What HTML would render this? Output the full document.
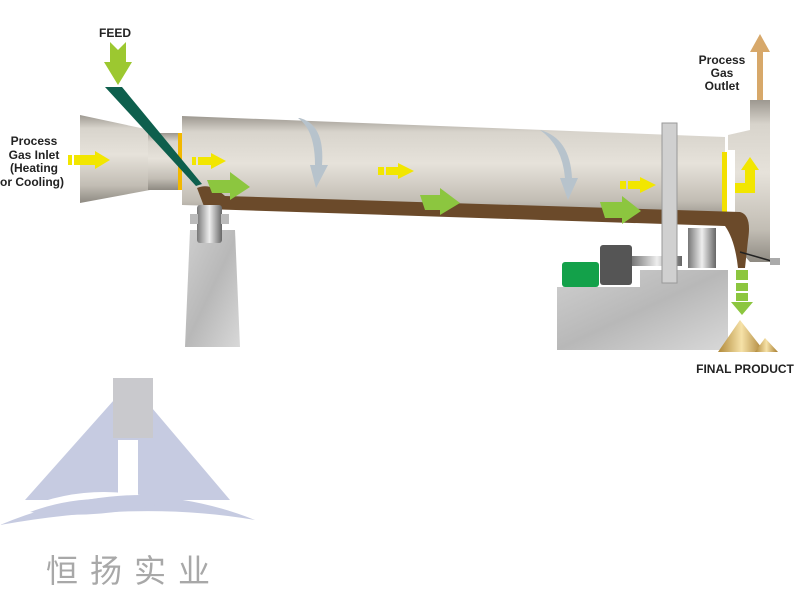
<!DOCTYPE html>
<html><head><meta charset="utf-8"><style>
body{margin:0;background:#fff;width:800px;height:600px;overflow:hidden}
svg{display:block}
text{font-family:"Liberation Sans",Arial,sans-serif;font-weight:bold;fill:#222}
</style></head><body>
<svg width="800" height="600" viewBox="0 0 800 600">
<defs>
<linearGradient id="drum" x1="0" y1="0" x2="0" y2="1">
<stop offset="0" stop-color="#9d9890"/><stop offset="0.15" stop-color="#d8d4cc"/><stop offset="0.45" stop-color="#e6e2da"/><stop offset="0.8" stop-color="#c2bdb4"/><stop offset="1" stop-color="#8e8a82"/></linearGradient>
<linearGradient id="stone" x1="0" y1="0" x2="1" y2="1"><stop offset="0" stop-color="#cfcfcf"/><stop offset="0.5" stop-color="#b8b8b8"/><stop offset="1" stop-color="#d8d8d8"/></linearGradient>
<linearGradient id="gold" x1="0" y1="0" x2="1" y2="0"><stop offset="0" stop-color="#b08838"/><stop offset="0.5" stop-color="#f6e2a8"/><stop offset="1" stop-color="#a57a2c"/></linearGradient>
<linearGradient id="steel" x1="0" y1="0" x2="1" y2="0"><stop offset="0" stop-color="#777"/><stop offset="0.5" stop-color="#eee"/><stop offset="1" stop-color="#666"/></linearGradient>
</defs>
<polygon points="80,115 150,130 150,190 80,203" fill="url(#drum)"/>
<rect x="148" y="133" width="34" height="57" fill="url(#drum)"/>
<rect x="178" y="133" width="5" height="57" fill="#f2b800"/>
<polygon points="182,116 725,137 725,222 182,205" fill="url(#drum)"/>
<polygon points="750,100 770,100 770,262 750,262 735,245 735,150 728,150 728,135 750,130" fill="url(#drum)"/>
<rect x="722" y="152" width="5" height="62" fill="#f2e000"/>
<path d="M197,188 Q210,182 225,196 L740,212 Q752,215 748,240 L745,268 L738,268 Q735,240 725,226 L205,209 Z" fill="#6b4a2a"/>
<polygon points="105,87 122,87 202,184 196,186" fill="#0e5f4d"/>
<polygon points="110,42 118,50 126,42 126,62 132,62 118,85 104,62 110,62" fill="#9cc830"/>
<text x="115" y="37" font-size="12" text-anchor="middle">FEED</text>
<g font-size="12" text-anchor="middle"><text x="34" y="145">Process</text><text x="34" y="159">Gas Inlet</text><text x="34" y="172">(Heating</text><text x="32" y="186">or Cooling)</text></g>
<g fill="#f2e600">
<polygon points="68,155 72,155 72,165 68,165"/><polygon points="74,155 95,155 95,151 110,160 95,169 95,165 74,165"/>
<polygon points="192,157 196,157 196,165 192,165"/><polygon points="198,157 211,157 211,153 226,161 211,169 211,165 198,165"/>
<polygon points="378,167 384,167 384,175 378,175"/><polygon points="386,167 398,167 398,163 414,171 398,179 398,175 386,175"/>
<polygon points="620,181 626,181 626,189 620,189"/><polygon points="628,181 640,181 640,177 656,185 640,193 640,189 628,189"/>
<polygon points="735,183 745,183 745,170 741,170 750,157 759,170 755,170 755,193 735,193"/>
</g>
<g fill="#8cc63f">
<polygon points="207,180 230,180 230,172 250,187 230,200 230,193 212,193"/>
<polygon points="420,195 440,195 440,188 460,203 440,215 440,210 425,210"/>
<polygon points="600,202 622,202 622,196 641,211 622,224 622,218 605,218"/>
<rect x="736" y="270" width="12" height="10"/><rect x="736" y="283" width="12" height="8"/><rect x="736" y="293" width="12" height="8"/>
<polygon points="731,302 753,302 742,315"/>
</g>
<path d="M300,118 Q325,125 322,165 L328,165 L316,188 L310,165 L315,165 Q315,130 298,118 Z" fill="#b7c3cc"/>
<path d="M540,130 Q570,138 572,178 L578,178 L568,200 L560,178 L565,178 Q562,145 540,130 Z" fill="#b7c3cc"/>
<polygon points="757,100 763,100 763,52 770,52 760,34 750,52 757,52" fill="#d7a86a"/>
<g font-size="12" text-anchor="middle"><text x="722" y="64">Process</text><text x="722" y="77">Gas</text><text x="722" y="90">Outlet</text></g>
<polygon points="190,230 235,230 240,347 185,347" fill="url(#stone)"/>
<rect x="197" y="205" width="25" height="38" fill="url(#steel)" rx="3"/>
<rect x="190" y="214" width="8" height="10" fill="#bbb"/><rect x="221" y="214" width="8" height="10" fill="#bbb"/>
<polygon points="557,287 640,287 640,270 728,270 728,350 557,350" fill="url(#stone)"/>
<rect x="562" y="262" width="37" height="25" fill="#13a14a" rx="3"/>
<rect x="600" y="245" width="32" height="40" fill="#555" rx="3"/>
<rect x="632" y="256" width="50" height="10" fill="url(#steel)"/>
<rect x="662" y="123" width="15" height="160" fill="#d0d0d0" stroke="#999"/>
<rect x="688" y="228" width="28" height="40" fill="url(#steel)"/>
<line x1="740" y1="252" x2="775" y2="262" stroke="#222" stroke-width="1.5"/>
<rect x="770" y="258" width="10" height="7" fill="#aaa"/>
<polygon points="718,352 740,320 765,352" fill="url(#gold)"/>
<polygon points="755,352 765,338 778,352" fill="url(#gold)"/>
<text x="745" y="373" font-size="12" text-anchor="middle">FINAL PRODUCT</text>
<polygon points="130,382 230,500 25,500" fill="#c6cbe1"/>
<rect x="113" y="378" width="40" height="60" fill="#c9c9cd"/>
<rect x="118" y="440" width="20" height="55" fill="#fff"/>
<path d="M25,508 Q80,485 140,495 Q100,495 35,510 Z" fill="#fff"/>
<path d="M0,525 Q130,470 255,520 Q140,500 0,525 Z" fill="#c6cbe1"/>
<path d="M30,512 Q90,490 155,505 Q90,520 30,512 Z" fill="#c6cbe1"/>
<text x="134" y="582" font-size="32" text-anchor="middle" style="font-family:'Noto Sans CJK SC',sans-serif;font-weight:normal;fill:#a8a8a8;letter-spacing:12px">恒扬实业</text>
</svg>
</body></html>
